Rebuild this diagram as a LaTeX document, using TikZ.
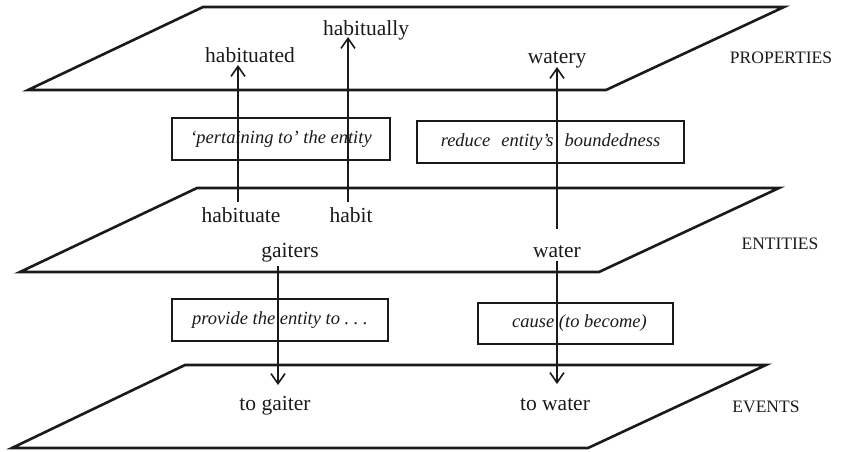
\documentclass[tikz,border=0pt]{standalone}
\usepackage{fontspec}
\setmainfont{Liberation Serif}
\usetikzlibrary{arrows.meta}
\definecolor{ink}{HTML}{1A1A1A}
\tikzset{
  plane/.style={draw=ink, line width=2.6pt, line join=miter},
  word/.style={text=ink, font=\fontsize{21.5}{24}\selectfont, inner sep=0pt, anchor=base},
  level/.style={text=ink, font=\fontsize{17.5}{20}\selectfont, inner sep=0pt, anchor=base},
  gloss/.style={draw=ink, text=ink, font=\fontsize{18.5}{21}\selectfont\itshape, inner sep=0pt},
  thinbox/.style={gloss, line width=1.1pt},
  thickbox/.style={gloss, line width=1.9pt},
  derive/.style={draw=ink, line width=1.6pt, -{Straight Barb[length=10pt,width=14pt,line width=1.6pt]}}
}
\begin{document}
\begin{tikzpicture}[x=1pt, y=-1pt]
\useasboundingbox (0,0) rectangle (846,451);

% the three levels
\draw[plane] (203,7) -- (784,7) -- (606,90) -- (28,90) -- cycle;
\draw[plane] (197,188) -- (779,188) -- (599,272) -- (20,272) -- cycle;
\draw[plane] (185,365) -- (766,365) -- (588,448) -- (12,448) -- cycle;

% level names
\node[level] (properties) at (781,63) {PROPERTIES};
\node[level] (entities) at (780,249) {ENTITIES};
\node[level] (events) at (766,412) {EVENTS};

% words on the property level
\node[word] (habituated) at (250,62.5) {habituated};
\node[word] (habitually) at (366,35) {habitually};
\node[word] (watery) at (557,63) {watery};

% words on the entity level
\node[word] (habituate) at (241,222) {habituate};
\node[word] (habit) at (351,222) {habit};
\node[word] (gaiters) at (290,257) {gaiters};
\node[word] (water) at (557,257) {water};

% words on the event level
\node[word] (togaiter) at (275,410) {to gaiter};
\node[word] (towater) at (555,410) {to water};

% glosses of the derivations
\node[thinbox, minimum width=218pt, minimum height=42pt] (pertain) at (281,139) {‘pertaining to’ the entity};
\node[thickbox, minimum width=267pt, minimum height=42pt] (reduce) at (550.5,142) {reduce\hspace{0.6em}entity’s\hspace{0.6em}boundedness};
\node[thinbox, minimum width=216pt, minimum height=42pt] (provide) at (280,320) {provide the entity to\ .\ .\ .};
\node[thickbox, minimum width=195pt, minimum height=41pt] (cause) at (575.5,323.5) {\hspace{8pt}cause (to become)};

% arrow ends
\coordinate (habituate-top) at (238,202);
\coordinate (habituated-foot) at (238,65);
\coordinate (habit-top) at (348,202);
\coordinate (habitually-foot) at (348,37);
\coordinate (water-top) at (557,229);
\coordinate (watery-foot) at (557,67);
\coordinate (gaiters-foot) at (278,266);
\coordinate (togaiter-top) at (278,385);
\coordinate (water-foot) at (557,261);
\coordinate (towater-top) at (557,384);

% derivations
\draw[derive] (habituate-top) -- (habituated-foot);
\draw[derive] (habit-top) -- (habitually-foot);
\draw[derive] (water-top) -- (watery-foot);
\draw[derive] (gaiters-foot) -- (togaiter-top);
\draw[derive] (water-foot) -- (towater-top);
\end{tikzpicture}
\end{document}
